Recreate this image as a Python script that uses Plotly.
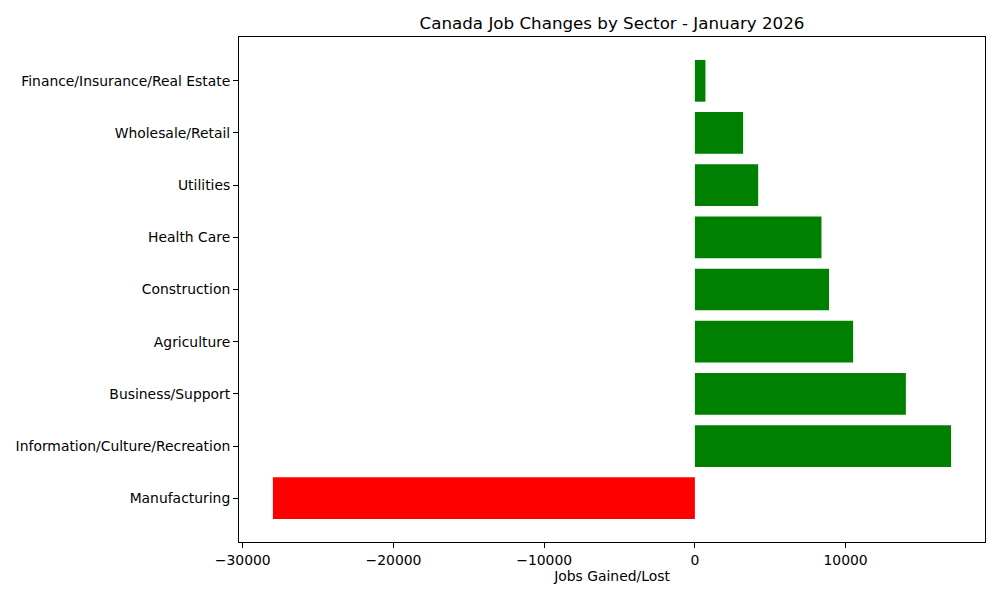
import plotly.graph_objects as go

sectors = ["Manufacturing", "Information/Culture/Recreation", "Business/Support", "Agriculture",
           "Construction", "Health Care", "Utilities", "Wholesale/Retail", "Finance/Insurance/Real Estate"]
changes = [-28000, 17000, 14000, 10500, 8900, 8400, 4200, 3200, 700]
colors = ["red" if v < 0 else "green" for v in changes]
tick_vals = [-30000, -20000, -10000, 0, 10000]
tick_text = ["\u221230000", "\u221220000", "\u221210000", "0", "10000"]

fig = go.Figure(go.Bar(
    x=changes, y=list(range(len(sectors))), orientation="h",
    marker=dict(color=colors, line=dict(width=0)), width=0.8,
))

font = "DejaVu Sans"
W, H = 992, 592
fig.update_layout(
    width=W, height=H,
    margin=dict(l=231, r=15, t=29, b=58, pad=0),
    plot_bgcolor="white", paper_bgcolor="white",
    showlegend=False,
    font=dict(family=font, size=13.9, color="black"),
    title=dict(text="Canada Job Changes by Sector - January 2026", x=(612 - 8) / W,
               xanchor="center", y=1 - 15 / H, yanchor="middle",
               font=dict(family=font, size=16.7, color="black")),
    xaxis=dict(range=[-30250, 19250], tickvals=tick_vals, ticktext=tick_text, automargin=False,
               showgrid=False, zeroline=False, showline=True, linecolor="black", linewidth=1,
               mirror=True, ticks="outside", ticklen=5, tickcolor="black",
               title=dict(text="Jobs Gained/Lost", font=dict(family=font, size=13.9), standoff=4)),
    yaxis=dict(range=[-0.84, 8.84], tickvals=list(range(len(sectors))), ticktext=sectors,
               automargin=False,
               showgrid=False, zeroline=False, showline=True, linecolor="black", linewidth=1,
               mirror=True, ticks="outside", ticklen=5, tickcolor="black"),
)

fig.write_html("out.html")
